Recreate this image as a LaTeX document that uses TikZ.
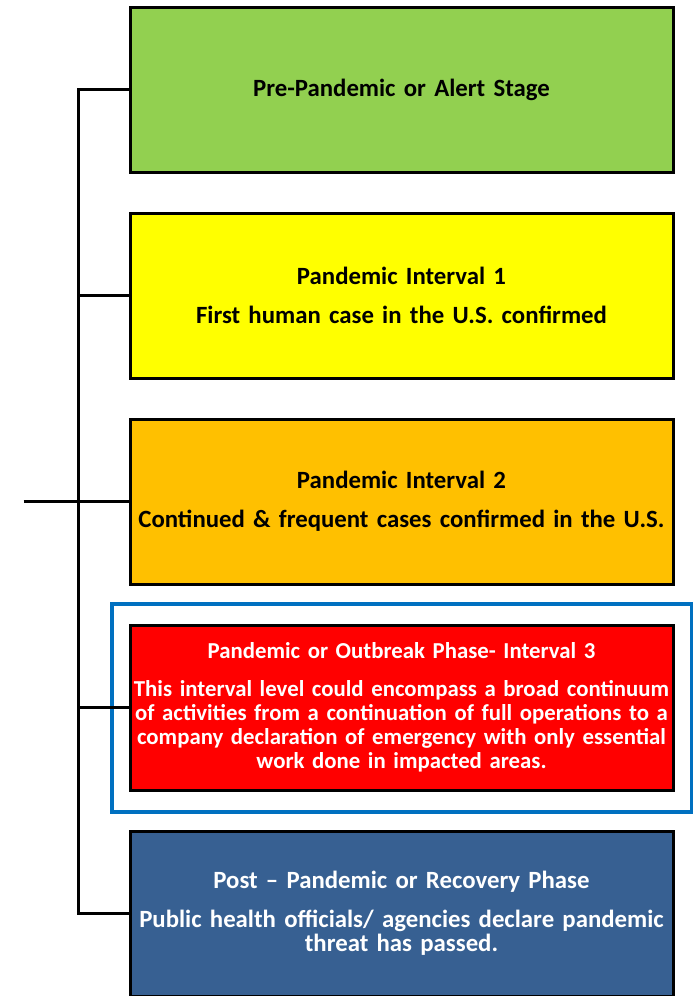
\documentclass[tikz,border=0pt]{standalone}
\usepackage{fontspec}
\setmainfont{Carlito}
\usepackage{xcolor}
\usetikzlibrary{positioning}
\definecolor{alertgreen}{HTML}{92D050}
\definecolor{firstyellow}{HTML}{FFFF00}
\definecolor{secondorange}{HTML}{FFC000}
\definecolor{outbreakred}{HTML}{FF0000}
\definecolor{recoveryblue}{HTML}{376092}
\definecolor{focusblue}{HTML}{0070C0}
\tikzstyle{stage} = [rectangle, minimum width=543pt, minimum height=165pt, inner sep=2pt, text width=536pt, align=center, draw=black, line width=3pt, font=\bfseries\fontsize{24.8}{24}\selectfont]
\tikzstyle{highlight} = [rectangle, draw=focusblue, line width=4pt, minimum width=580pt, minimum height=208pt]
\tikzstyle{line} = [line width=3pt]

\begin{document}
\begin{tikzpicture}[x=1pt, y=-1pt, node distance=38pt]
        \useasboundingbox (0,0) rectangle (693,996);
        \node (alert) [stage, fill=alertgreen] at (401.5,89.5) {Pre-Pandemic or Alert Stage};
        \node (interval1) [stage, fill=firstyellow, below=of alert] {Pandemic Interval 1\\[15pt]First human case in the U.S. confirmed};
        \node (interval2) [stage, fill=secondorange, below=of interval1] {Pandemic Interval 2\\[15pt]Continued \& frequent cases confirmed in the U.S.};
        \node (interval3) [stage, fill=outbreakred, text=white, font=\bfseries\fontsize{22.8}{24}\selectfont, below=of interval2] {Pandemic or Outbreak Phase- Interval 3\\[14pt]This interval level could encompass a broad continuum\\of activities from a continuation of full operations to a\\company declaration of emergency with only essential\\work done in impacted areas.};
        \node (recovery) [stage, fill=recoveryblue, text=white, below=of interval3] {Post -- Pandemic or Recovery Phase\\[15pt]Public health officials/ agencies declare pandemic\\threat has passed.};
        \node (focus) [highlight] at (interval3) {};

        \coordinate (trunk) at ([xshift=-50pt]interval2.west);
        \coordinate (root) at ([xshift=-55pt]trunk);
        \draw [line] (root) -- (trunk);
        \draw [line] (trunk) |- (alert);
        \draw [line] (trunk) |- (interval1);
        \draw [line] (trunk) -- (interval2);
        \draw [line] (trunk) |- (interval3);
        \draw [line] (trunk) |- (recovery);
    \end{tikzpicture}
\end{document}
